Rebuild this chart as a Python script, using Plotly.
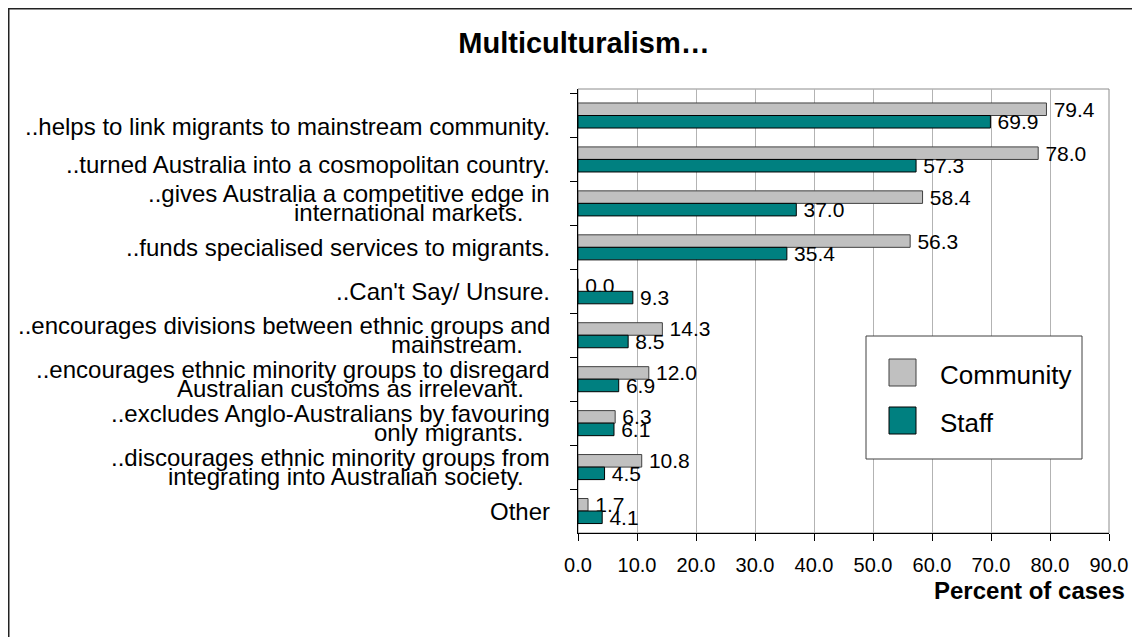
"""Multiculturalism survey chart: Community vs Staff, percent of cases."""
import plotly.graph_objects as go

FONT = "Arial, Liberation Sans, sans-serif"
GRAY = "#C0C0C0"
TEAL = "#008080"

# category labels, one inner list per row (line breaks as in the original)
category_lines = [
    ["..helps to link migrants to mainstream community."],
    ["..turned Australia into a cosmopolitan country."],
    ["..gives Australia a competitive edge in", "international markets."],
    ["..funds specialised services to migrants."],
    ["..Can't Say/ Unsure."],
    ["..encourages divisions between ethnic groups and", "mainstream."],
    ["..encourages ethnic minority groups to disregard", "Australian customs as irrelevant."],
    ["..excludes Anglo-Australians by favouring", "only migrants."],
    ["..discourages ethnic minority groups from", "integrating into Australian society."],
    ["Other"],
]
categories = [" ".join(lines) for lines in category_lines]

community = [79.4, 78.0, 58.4, 56.3, 0.0, 14.3, 12.0, 6.3, 10.8, 1.7]
staff = [69.9, 57.3, 37.0, 35.4, 9.3, 8.5, 6.9, 6.1, 4.5, 4.1]

x_ticks = [0, 10, 20, 30, 40, 50, 60, 70, 80, 90]

# page geometry (pixels). The page body adds an 8px margin, so every
# position measured on screen is moved back by OFF in figure coordinates.
W, H = 1140, 637
OFF = 8
L, T = 578 - OFF, 89 - OFF
PW, PH = 531, 444
R, B = W - L - PW, H - T - PH

# the top two labels sit a little low in the original
LABEL_NUDGE = {0: -11, 1: -5}


def px(x):
    return (x - OFF - L) / PW


def py(y):
    return (T + PH - (y - OFF)) / PH


fig = go.Figure()
for name, vals, color, edge in [
    ("Community", community, GRAY, "#404040"),
    ("Staff", staff, TEAL, "#000000"),
]:
    fig.add_trace(
        go.Bar(
            name=name,
            y=categories,
            x=vals,
            orientation="h",
            marker=dict(color=color, line=dict(color=edge, width=1)),
            texttemplate="\u2009%{x:.1f}",
            textposition="outside",
            constraintext="none",
            cliponaxis=False,
            textfont=dict(family=FONT, size=21, color="black"),
        )
    )

# category labels: one annotation per line so the tight line spacing matches
annotations = []
for row, (cat, lines) in enumerate(zip(categories, category_lines)):
    shifts = [0] if len(lines) == 1 else [9.5, -9.5]
    for i, (line, dy) in enumerate(zip(lines, shifts)):
        text = line + "\u00a0" * 4 if i == 1 else line
        annotations.append(
            dict(
                x=0, xref="paper", y=cat, yref="y", xanchor="right", yanchor="middle",
                xshift=-26, yshift=dy + LABEL_NUDGE.get(row, 0), text=text, showarrow=False,
                font=dict(family=FONT, size=24, color="black"),
            )
        )

annotations.append(
    dict(
        x=px(1127), y=py(590), xref="paper", yref="paper", xanchor="right",
        yanchor="middle", text="<b>Percent of cases</b>", showarrow=False,
        font=dict(family=FONT, size=24, color="black"),
    )
)

# legend drawn by hand (Excel style large swatches)
legend_items = [("Community", GRAY, "#404040", 359, 375), ("Staff", TEAL, "#000000", 407, 423)]
shapes = [
    # outer chart frame
    dict(type="rect", xref="paper", yref="paper", x0=px(8.75), x1=px(1160), y0=py(660), y1=py(8.75),
         line=dict(color="#222222", width=1.5)),
    # plot area frame
    dict(type="rect", xref="paper", yref="paper", x0=0, x1=1, y0=0, y1=1,
         line=dict(color="#8C8C8C", width=1), layer="below"),
    dict(type="rect", xref="paper", yref="paper", x0=px(866), x1=px(1082), y0=py(459), y1=py(336),
         line=dict(color="#404040", width=1), fillcolor="white"),
]
for label, color, edge, top, ty in legend_items:
    shapes.append(
        dict(type="rect", xref="paper", yref="paper", x0=px(889), x1=px(916), y0=py(top + 27), y1=py(top),
             line=dict(color=edge, width=1), fillcolor=color)
    )
    annotations.append(
        dict(x=px(938), y=py(ty), xref="paper", yref="paper", xanchor="left", yanchor="middle",
             text=label, showarrow=False, font=dict(family=FONT, size=26, color="black"))
    )

fig.update_layout(
    width=W,
    height=H,
    autosize=False,
    margin=dict(l=L, r=R, t=T, b=B),
    paper_bgcolor="white",
    plot_bgcolor="white",
    barmode="group",
    bargap=0.43,
    bargroupgap=0,
    showlegend=False,
    font=dict(family=FONT, color="black"),
    title=dict(
        text="<b>Multiculturalism…</b>",
        x=(584 - OFF) / W, xanchor="center", y=1 - (43 - OFF) / H, yanchor="middle",
        font=dict(family=FONT, size=29, color="black"),
    ),
    xaxis=dict(
        range=[0, 90],
        tickvals=x_ticks,
        tickformat=".1f",
        showgrid=True,
        gridcolor="#B3B3B3",
        gridwidth=1,
        zeroline=False,
        showline=True,
        linecolor="black",
        linewidth=1,
        ticks="outside",
        ticklen=7,
        tickcolor="black",
        ticklabelstandoff=7,
        tickfont=dict(family=FONT, size=20, color="black"),
    ),
    yaxis=dict(
        autorange="reversed",
        showticklabels=False,
        showgrid=False,
        showline=True,
        linecolor="black",
        linewidth=1,
        ticks="outside",
        tickson="boundaries",
        ticklen=7,
        tickcolor="black",
    ),
    annotations=annotations,
    shapes=shapes,
)

fig.write_html("out.html")
